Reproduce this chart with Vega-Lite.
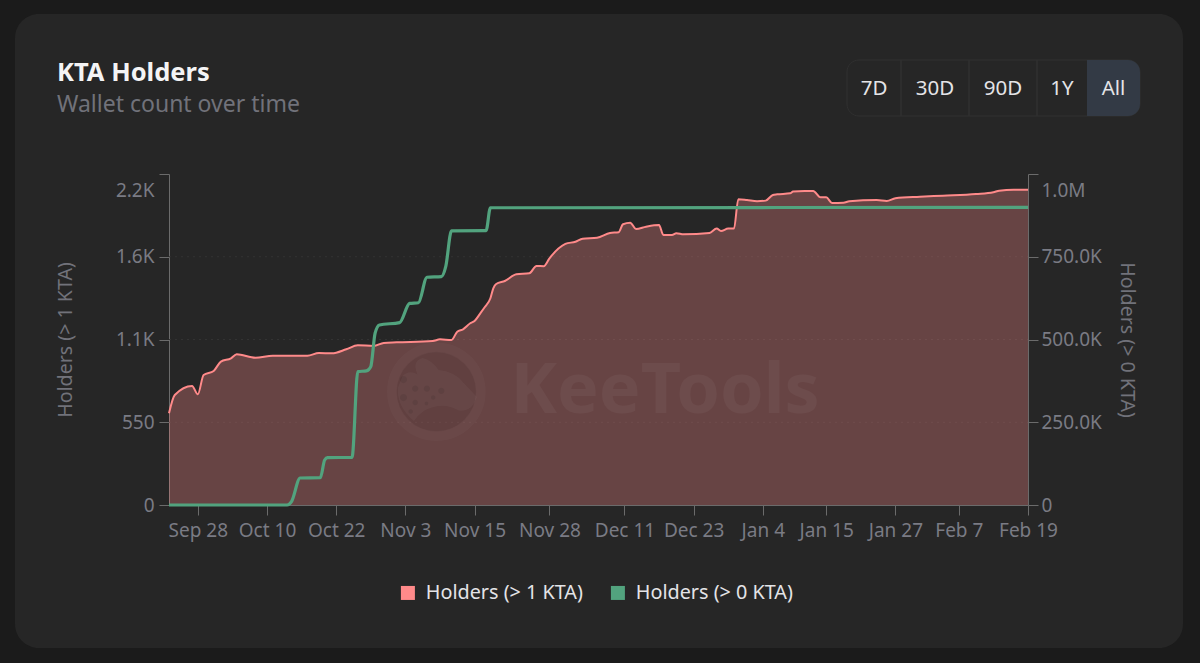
{
"$schema":"https://vega.github.io/schema/vega-lite/v6.json",
"autosize":{"type":"none"},
"padding":{"left":15,"top":14,"right":17,"bottom":15},
"width":1168,"height":634,
"background":"#1b1b1b",
"view":{"fill":"#262626","stroke":null,"cornerRadius":24},
"config":{"font":"Noto Sans"},
"title":{"text":"KTA Holders","subtitle":"Wallet count over time","anchor":"start","frame":"group","dx":42,"offset":-103,"fontSize":25.5,"fontWeight":700,"color":"#f4f4f5","subtitleFontSize":23,"subtitleColor":"#71727a","subtitlePadding":8,"font":"Noto Sans","subtitleFont":"Noto Sans"},
"datasets":{
"holders":[
{"date":"2024-09-23T00:00:00Z","series":"Holders (> 1 KTA)","value":610},
{"date":"2024-09-24T00:00:00Z","series":"Holders (> 1 KTA)","value":731},
{"date":"2024-09-27T00:00:00Z","series":"Holders (> 1 KTA)","value":791},
{"date":"2024-09-28T00:00:00Z","series":"Holders (> 1 KTA)","value":736},
{"date":"2024-09-29T00:00:00Z","series":"Holders (> 1 KTA)","value":864},
{"date":"2024-09-30T18:00:00Z","series":"Holders (> 1 KTA)","value":891},
{"date":"2024-10-02T00:00:00Z","series":"Holders (> 1 KTA)","value":953},
{"date":"2024-10-03T18:00:00Z","series":"Holders (> 1 KTA)","value":975},
{"date":"2024-10-04T18:00:00Z","series":"Holders (> 1 KTA)","value":1002},
{"date":"2024-10-08T00:00:00Z","series":"Holders (> 1 KTA)","value":979},
{"date":"2024-10-11T00:00:00Z","series":"Holders (> 1 KTA)","value":992},
{"date":"2024-10-17T00:00:00Z","series":"Holders (> 1 KTA)","value":992},
{"date":"2024-10-19T00:00:00Z","series":"Holders (> 1 KTA)","value":1010},
{"date":"2024-10-21T06:00:00Z","series":"Holders (> 1 KTA)","value":1008},
{"date":"2024-10-23T18:00:00Z","series":"Holders (> 1 KTA)","value":1035},
{"date":"2024-10-25T18:00:00Z","series":"Holders (> 1 KTA)","value":1062},
{"date":"2024-10-28T12:00:00Z","series":"Holders (> 1 KTA)","value":1057},
{"date":"2024-10-30T06:00:00Z","series":"Holders (> 1 KTA)","value":1077},
{"date":"2024-11-01T12:00:00Z","series":"Holders (> 1 KTA)","value":1081},
{"date":"2024-11-07T18:00:00Z","series":"Holders (> 1 KTA)","value":1090},
{"date":"2024-11-09T00:00:00Z","series":"Holders (> 1 KTA)","value":1101},
{"date":"2024-11-11T00:00:00Z","series":"Holders (> 1 KTA)","value":1097},
{"date":"2024-11-12T00:00:00Z","series":"Holders (> 1 KTA)","value":1152},
{"date":"2024-11-13T00:00:00Z","series":"Holders (> 1 KTA)","value":1168},
{"date":"2024-11-14T06:00:00Z","series":"Holders (> 1 KTA)","value":1208},
{"date":"2024-11-15T00:00:00Z","series":"Holders (> 1 KTA)","value":1223},
{"date":"2024-11-16T00:00:00Z","series":"Holders (> 1 KTA)","value":1274},
{"date":"2024-11-16T18:00:00Z","series":"Holders (> 1 KTA)","value":1314},
{"date":"2024-11-17T18:00:00Z","series":"Holders (> 1 KTA)","value":1374},
{"date":"2024-11-18T06:00:00Z","series":"Holders (> 1 KTA)","value":1440},
{"date":"2024-11-18T18:00:00Z","series":"Holders (> 1 KTA)","value":1469},
{"date":"2024-11-20T06:00:00Z","series":"Holders (> 1 KTA)","value":1489},
{"date":"2024-11-22T06:00:00Z","series":"Holders (> 1 KTA)","value":1533},
{"date":"2024-11-24T12:00:00Z","series":"Holders (> 1 KTA)","value":1540},
{"date":"2024-11-25T18:00:00Z","series":"Holders (> 1 KTA)","value":1589},
{"date":"2024-11-27T00:00:00Z","series":"Holders (> 1 KTA)","value":1587},
{"date":"2024-11-28T00:00:00Z","series":"Holders (> 1 KTA)","value":1640},
{"date":"2024-11-30T18:00:00Z","series":"Holders (> 1 KTA)","value":1735},
{"date":"2024-12-02T12:00:00Z","series":"Holders (> 1 KTA)","value":1750},
{"date":"2024-12-03T18:00:00Z","series":"Holders (> 1 KTA)","value":1770},
{"date":"2024-12-06T06:00:00Z","series":"Holders (> 1 KTA)","value":1777},
{"date":"2024-12-08T12:00:00Z","series":"Holders (> 1 KTA)","value":1808},
{"date":"2024-12-10T00:00:00Z","series":"Holders (> 1 KTA)","value":1813},
{"date":"2024-12-10T18:00:00Z","series":"Holders (> 1 KTA)","value":1866},
{"date":"2024-12-12T00:00:00Z","series":"Holders (> 1 KTA)","value":1876},
{"date":"2024-12-13T00:00:00Z","series":"Holders (> 1 KTA)","value":1835},
{"date":"2024-12-14T18:00:00Z","series":"Holders (> 1 KTA)","value":1850},
{"date":"2024-12-17T00:00:00Z","series":"Holders (> 1 KTA)","value":1861},
{"date":"2024-12-17T18:00:00Z","series":"Holders (> 1 KTA)","value":1795},
{"date":"2024-12-19T06:00:00Z","series":"Holders (> 1 KTA)","value":1795},
{"date":"2024-12-20T00:00:00Z","series":"Holders (> 1 KTA)","value":1806},
{"date":"2024-12-21T06:00:00Z","series":"Holders (> 1 KTA)","value":1799},
{"date":"2024-12-25T18:00:00Z","series":"Holders (> 1 KTA)","value":1808},
{"date":"2024-12-27T00:00:00Z","series":"Holders (> 1 KTA)","value":1837},
{"date":"2024-12-27T18:00:00Z","series":"Holders (> 1 KTA)","value":1821},
{"date":"2024-12-29T00:00:00Z","series":"Holders (> 1 KTA)","value":1837},
{"date":"2024-12-30T00:00:00Z","series":"Holders (> 1 KTA)","value":1837},
{"date":"2024-12-30T18:00:00Z","series":"Holders (> 1 KTA)","value":2032},
{"date":"2025-01-01T06:00:00Z","series":"Holders (> 1 KTA)","value":2027},
{"date":"2025-01-03T00:00:00Z","series":"Holders (> 1 KTA)","value":2019},
{"date":"2025-01-04T12:00:00Z","series":"Holders (> 1 KTA)","value":2023},
{"date":"2025-01-05T18:00:00Z","series":"Holders (> 1 KTA)","value":2061},
{"date":"2025-01-06T12:00:00Z","series":"Holders (> 1 KTA)","value":2065},
{"date":"2025-01-08T18:00:00Z","series":"Holders (> 1 KTA)","value":2072},
{"date":"2025-01-09T06:00:00Z","series":"Holders (> 1 KTA)","value":2083},
{"date":"2025-01-11T06:00:00Z","series":"Holders (> 1 KTA)","value":2087},
{"date":"2025-01-12T18:00:00Z","series":"Holders (> 1 KTA)","value":2087},
{"date":"2025-01-14T00:00:00Z","series":"Holders (> 1 KTA)","value":2045},
{"date":"2025-01-15T00:00:00Z","series":"Holders (> 1 KTA)","value":2045},
{"date":"2025-01-16T00:00:00Z","series":"Holders (> 1 KTA)","value":2007},
{"date":"2025-01-18T00:00:00Z","series":"Holders (> 1 KTA)","value":2009},
{"date":"2025-01-19T00:00:00Z","series":"Holders (> 1 KTA)","value":2019},
{"date":"2025-01-23T18:00:00Z","series":"Holders (> 1 KTA)","value":2027},
{"date":"2025-01-25T12:00:00Z","series":"Holders (> 1 KTA)","value":2021},
{"date":"2025-01-27T00:00:00Z","series":"Holders (> 1 KTA)","value":2039},
{"date":"2025-01-31T06:00:00Z","series":"Holders (> 1 KTA)","value":2049},
{"date":"2025-02-04T06:00:00Z","series":"Holders (> 1 KTA)","value":2056},
{"date":"2025-02-10T00:00:00Z","series":"Holders (> 1 KTA)","value":2067},
{"date":"2025-02-13T00:00:00Z","series":"Holders (> 1 KTA)","value":2079},
{"date":"2025-02-14T00:00:00Z","series":"Holders (> 1 KTA)","value":2089},
{"date":"2025-02-16T12:00:00Z","series":"Holders (> 1 KTA)","value":2096},
{"date":"2025-02-19T00:00:00Z","series":"Holders (> 1 KTA)","value":2096},
{"date":"2024-09-23T00:00:00Z","series":"Holders (> 0 KTA)","value":0},
{"date":"2024-10-13T12:00:00Z","series":"Holders (> 0 KTA)","value":0},
{"date":"2024-10-14T06:00:00Z","series":"Holders (> 0 KTA)","value":10000},
{"date":"2024-10-15T18:00:00Z","series":"Holders (> 0 KTA)","value":81600},
{"date":"2024-10-19T06:00:00Z","series":"Holders (> 0 KTA)","value":82500},
{"date":"2024-10-20T00:00:00Z","series":"Holders (> 0 KTA)","value":136000},
{"date":"2024-10-20T12:00:00Z","series":"Holders (> 0 KTA)","value":143000},
{"date":"2024-10-24T18:00:00Z","series":"Holders (> 0 KTA)","value":144000},
{"date":"2024-10-25T18:00:00Z","series":"Holders (> 0 KTA)","value":403000},
{"date":"2024-10-27T06:00:00Z","series":"Holders (> 0 KTA)","value":405000},
{"date":"2024-10-28T00:00:00Z","series":"Holders (> 0 KTA)","value":418000},
{"date":"2024-10-28T18:00:00Z","series":"Holders (> 0 KTA)","value":519000},
{"date":"2024-10-29T12:00:00Z","series":"Holders (> 0 KTA)","value":544000},
{"date":"2024-11-02T00:00:00Z","series":"Holders (> 0 KTA)","value":551000},
{"date":"2024-11-03T18:00:00Z","series":"Holders (> 0 KTA)","value":609000},
{"date":"2024-11-05T06:00:00Z","series":"Holders (> 0 KTA)","value":611000},
{"date":"2024-11-06T18:00:00Z","series":"Holders (> 0 KTA)","value":688000},
{"date":"2024-11-09T06:00:00Z","series":"Holders (> 0 KTA)","value":690000},
{"date":"2024-11-10T00:00:00Z","series":"Holders (> 0 KTA)","value":720000},
{"date":"2024-11-11T00:00:00Z","series":"Holders (> 0 KTA)","value":828000},
{"date":"2024-11-16T18:00:00Z","series":"Holders (> 0 KTA)","value":829000},
{"date":"2024-11-17T00:00:00Z","series":"Holders (> 0 KTA)","value":829000},
{"date":"2024-11-17T18:00:00Z","series":"Holders (> 0 KTA)","value":898000},
{"date":"2025-02-19T00:00:00Z","series":"Holders (> 0 KTA)","value":899000}
],
"gridLines":[
{"from":"2024-09-23T00:00:00Z","to":"2025-02-19T00:00:00Z","tick":1650},
{"from":"2024-09-23T00:00:00Z","to":"2025-02-19T00:00:00Z","tick":1100},
{"from":"2024-09-23T00:00:00Z","to":"2025-02-19T00:00:00Z","tick":550}
],
"watermark":[{"date":"2024-11-21T06:00:00Z","value":753,"text":"KeeTools"}],
"logo":[{"date":"2024-11-08T09:00:00Z","value":753}],
"ranges":[
{"label":"7D","slot":0,"slotEnd":1,"mid":0.5,"row":"range"},
{"label":"30D","slot":1,"slotEnd":2,"mid":1.5,"row":"range"},
{"label":"90D","slot":2,"slotEnd":3,"mid":2.5,"row":"range"},
{"label":"1Y","slot":3,"slotEnd":4,"mid":3.5,"row":"range"},
{"label":"All","slot":4,"slotEnd":5,"mid":4.5,"row":"range"}
]
},
"resolve":{"scale":{"x":"independent","y":"independent"},"axis":{"x":"independent","y":"independent"}},
"layer":[
{"data":{"name":"gridLines"},
 "mark":{"type":"rule","color":"#333333","strokeDash":[2,4],"strokeWidth":1},
 "encoding":{
  "x":{"field":"from","type":"temporal","axis":null,"scale":{"type":"utc","domain":[{"year":2024,"month":"sep","date":23,"utc":true},{"year":2025,"month":"feb","date":19,"utc":true}],"range":[154,1013]}},
  "x2":{"field":"to"},
  "y":{"field":"tick","type":"quantitative","axis":null,"scale":{"domain":[0,2200],"range":[491,160],"nice":false}}
 }},
{"data":{"name":"holders"},
 "transform":[{"filter":"datum.series === 'Holders (> 1 KTA)'"}],
 "encoding":{
  "x":{"field":"date","type":"temporal",
   "scale":{"type":"utc","domain":[{"year":2024,"month":"sep","date":23,"utc":true},{"year":2025,"month":"feb","date":19,"utc":true}],"range":[154,1013]},
   "axis":{"title":null,"offset":-143,"format":"%b %-d","grid":false,"domainColor":"#6b6b6b","tickColor":"#6b6b6b","tickSize":10,"labelColor":"#7a7b84","labelFontSize":19,"labelPadding":6,"labelOverlap":false,"labelFlush":false,"labelFont":"Noto Sans",
    "values":[{"year":2024,"month":"sep","date":28,"utc":true},{"year":2024,"month":"oct","date":10,"utc":true},{"year":2024,"month":"oct","date":22,"utc":true},{"year":2024,"month":"nov","date":3,"utc":true},{"year":2024,"month":"nov","date":15,"utc":true},{"year":2024,"month":"nov","date":28,"utc":true},{"year":2024,"month":"dec","date":11,"utc":true},{"year":2024,"month":"dec","date":23,"utc":true},{"year":2025,"month":"jan","date":4,"utc":true},{"year":2025,"month":"jan","date":15,"utc":true},{"year":2025,"month":"jan","date":27,"utc":true},{"year":2025,"month":"feb","date":7,"utc":true},{"year":2025,"month":"feb","date":19,"utc":true}]}},
  "y":{"field":"value","type":"quantitative",
   "scale":{"domain":[0,2200],"range":[491,160],"nice":false},
   "axis":{"title":"Holders (> 1 KTA)","offset":-154,"grid":false,"values":[0,550,1100,1650,2200],"labelExpr":"datum.value==2200?'2.2K':datum.value==1650?'1.6K':datum.value==1100?'1.1K':datum.value==550?'550':'0'","labelOffset":{"condition":{"test":"datum.value==2200","value":16},"value":0},"domainColor":"#6b6b6b","tickColor":"#6b6b6b","tickSize":10,"labelColor":"#7a7b84","labelFontSize":19,"labelPadding":5,"titleColor":"#71727a","titleFontSize":19.6,"titleFontWeight":400,"titlePadding":40,"labelFont":"Noto Sans","titleFont":"Noto Sans"}}
 },
 "layer":[
  {"mark":{"type":"area","color":"#ff8a8a","opacity":0.3,"interpolate":"monotone"}},
  {"mark":{"type":"line","strokeWidth":2,"interpolate":"monotone"},
   "encoding":{"color":{"field":"series","type":"nominal","scale":{"domain":["Holders (> 1 KTA)","Holders (> 0 KTA)"],"range":["#ff8a8a","#52a37e"]},
    "legend":{"title":null,"orient":"none","legendX":383,"legendY":569,"direction":"horizontal","symbolType":"square","symbolSize":36,"symbolStrokeWidth":8,"symbolOpacity":1,"labelColor":"#e4e4e7","labelFontSize":19.8,"labelFont":"Noto Sans","columnPadding":15,"labelOffset":8}}}}
 ]},
{"data":{"name":"logo"},
 "encoding":{
  "x":{"field":"date","type":"temporal","axis":null,"scale":{"type":"utc","domain":[{"year":2024,"month":"sep","date":23,"utc":true},{"year":2025,"month":"feb","date":19,"utc":true}],"range":[154,1013]}},
  "y":{"field":"value","type":"quantitative","axis":null,"scale":{"domain":[0,2200],"range":[491,160],"nice":false}}
 },
 "layer":[
  {"mark":{"type":"point","filled":false,"stroke":"#ffffff","strokeOpacity":0.04,"strokeWidth":10,"size":7854}},
  {"mark":{"type":"point","filled":true,"fill":"#000000","opacity":0.05,"size":6360}},
  {"mark":{"type":"point","filled":true,"fill":"#ffffff","opacity":0.035,"size":8100,"shape":"M-.75,-.35 Q-.6,-.5 -.42,-.38 Q-.55,-.7 -.3,-.75 Q-.1,-.7 .05,-.48 Q.4,-.45 .6,-.2 L.9,.12 Q.8,.45 .5,.42 Q.2,.25 -.1,.35 Q-.35,.42 -.5,.65 Q-.9,.3 -.85,-.1 Z"}},
  {"mark":{"type":"point","filled":true,"fill":"#000000","opacity":0.07,"size":8100,"shape":"M-.81,-.27 a.08,.08 0 1 0 .16,0 a.08,.08 0 1 0 -.16,0 Z M-.54,-.07 a.07,.07 0 1 0 .14,0 a.07,.07 0 1 0 -.14,0 Z M-.28,-.07 a.07,.07 0 1 0 .14,0 a.07,.07 0 1 0 -.14,0 Z M.04,-.02 a.07,.07 0 1 0 .14,0 a.07,.07 0 1 0 -.14,0 Z M-.81,.13 a.08,.08 0 1 0 .16,0 a.08,.08 0 1 0 -.16,0 Z M-.53,.24 a.06,.06 0 1 0 .12,0 a.06,.06 0 1 0 -.12,0 Z M-.12,.13 a.05,.05 0 1 0 .1,0 a.05,.05 0 1 0 -.1,0 Z M-.26,.26 a.04,.04 0 1 0 .08,0 a.04,.04 0 1 0 -.08,0 Z M-.62,.44 a.05,.05 0 1 0 .1,0 a.05,.05 0 1 0 -.1,0 Z"}}
 ]},
{"data":{"name":"watermark"},
 "mark":{"type":"text","align":"left","baseline":"middle","font":"Noto Sans","fontWeight":700,"fontSize":70,"fill":"#ffffff","opacity":0.04},
 "encoding":{
  "x":{"field":"date","type":"temporal","axis":null,"scale":{"type":"utc","domain":[{"year":2024,"month":"sep","date":23,"utc":true},{"year":2025,"month":"feb","date":19,"utc":true}],"range":[154,1013]}},
  "y":{"field":"value","type":"quantitative","axis":null,"scale":{"domain":[0,2200],"range":[491,160],"nice":false}},
  "text":{"field":"text"}
 }},
{"data":{"name":"holders"},
 "transform":[{"filter":"datum.series === 'Holders (> 0 KTA)'"}],
 "mark":{"type":"line","strokeWidth":3.2,"interpolate":"monotone"},
 "encoding":{
  "x":{"field":"date","type":"temporal","axis":null,"scale":{"type":"utc","domain":[{"year":2024,"month":"sep","date":23,"utc":true},{"year":2025,"month":"feb","date":19,"utc":true}],"range":[154,1013]}},
  "y":{"field":"value","type":"quantitative",
   "scale":{"domain":[0,1000000],"range":[491,160],"nice":false},
   "axis":{"orient":"right","title":"Holders (> 0 KTA)","offset":-155,"grid":false,"values":[0,250000,500000,750000,1000000],"labelExpr":"datum.value==1000000?'1.0M':datum.value==750000?'750.0K':datum.value==500000?'500.0K':datum.value==250000?'250.0K':'0'","labelOffset":{"condition":{"test":"datum.value==1000000","value":16},"value":0},"domainColor":"#6b6b6b","tickColor":"#6b6b6b","tickSize":10,"labelColor":"#7a7b84","labelFontSize":19,"labelPadding":3,"titleColor":"#71727a","titleFontSize":19.6,"titleFontWeight":400,"titlePadding":15,"labelFont":"Noto Sans","titleFont":"Noto Sans"}},
  "color":{"field":"series","type":"nominal","scale":{"domain":["Holders (> 1 KTA)","Holders (> 0 KTA)"],"range":["#ff8a8a","#52a37e"]},
    "legend":{"title":null,"orient":"none","legendX":383,"legendY":569,"direction":"horizontal","symbolType":"square","symbolSize":36,"symbolStrokeWidth":8,"symbolOpacity":1,"labelColor":"#e4e4e7","labelFontSize":19.8,"labelFont":"Noto Sans","columnPadding":15,"labelOffset":8}}
 }},
{"data":{"name":"ranges"},
 "layer":[
  {"transform":[{"aggregate":[{"op":"min","field":"slot","as":"first"},{"op":"max","field":"slotEnd","as":"last"}],"groupby":["row"]}],
   "mark":{"type":"rect","fill":"#262626","stroke":"#303030","strokeWidth":1,"cornerRadius":12},
   "encoding":{
    "x":{"field":"first","type":"quantitative","axis":null,"scale":{"domain":[0,1,2,3,4,5],"range":[832,886,954,1022,1072,1125],"nice":false,"zero":false}},
    "x2":{"field":"last"},
    "y":{"field":"row","type":"nominal","axis":null,"scale":{"type":"band","range":[46,102],"paddingInner":0,"paddingOuter":0}}
   }},
  {"transform":[{"filter":"datum.label === 'All'"}],
   "mark":{"type":"rect","fill":"#333a45","cornerRadiusTopRight":12,"cornerRadiusBottomRight":12},
   "encoding":{
    "x":{"field":"slot","type":"quantitative","axis":null,"scale":{"domain":[0,1,2,3,4,5],"range":[832,886,954,1022,1072,1125],"nice":false,"zero":false}},
    "x2":{"field":"slotEnd"},
    "y":{"field":"row","type":"nominal","axis":null,"scale":{"type":"band","range":[46,102],"paddingInner":0,"paddingOuter":0}}
   }},
  {"transform":[{"filter":"datum.slot > 0 && datum.slot < 4"}],
   "mark":{"type":"rect","stroke":"#303030","strokeWidth":1},
   "encoding":{
    "x":{"field":"slot","type":"quantitative","axis":null,"scale":{"domain":[0,1,2,3,4,5],"range":[832,886,954,1022,1072,1125],"nice":false,"zero":false}},
    "x2":{"field":"slot"},
    "y":{"field":"row","type":"nominal","axis":null,"scale":{"type":"band","range":[46,102],"paddingInner":0,"paddingOuter":0}}
   }},
  {"mark":{"type":"text","font":"Noto Sans","fontSize":20.5,"fill":"#e4e4e7","dy":1},
   "encoding":{
    "x":{"field":"mid","type":"quantitative","axis":null,"scale":{"domain":[0,1,2,3,4,5],"range":[832,886,954,1022,1072,1125],"nice":false,"zero":false}},
    "y":{"field":"row","type":"nominal","axis":null,"scale":{"type":"band","range":[46,102],"paddingInner":0,"paddingOuter":0}},
    "text":{"field":"label"}
   }}
 ]}
]
}
